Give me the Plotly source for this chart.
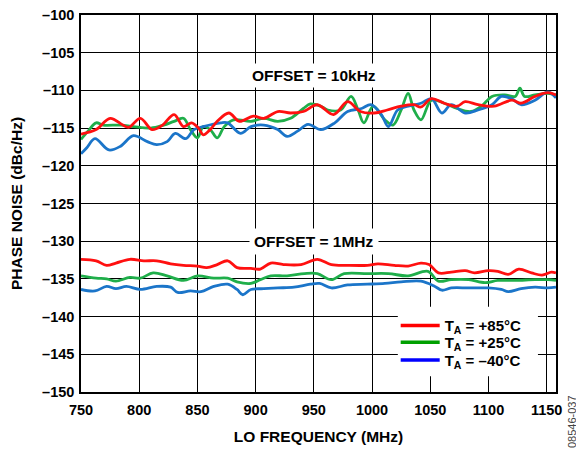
import plotly.graph_objects as go

# ---------------- data ----------------
x_ticks = [750, 800, 850, 900, 950, 1000, 1050, 1100, 1150]
x_tick_labels = ["750", "800", "850", "900", "950", "1000", "1050", "1100", "1150"]
y_ticks = [-100, -105, -110, -115, -120, -125, -130, -135, -140, -145, -150]
y_tick_labels = ["–100", "–105", "–110", "–115", "–120", "–125", "–130", "–135", "–140", "–145", "–150"]

# OFFSET = 10kHz
f_red_10k = [750, 763, 775, 786, 791, 801, 811, 820, 830, 838, 845, 851, 855, 861, 867, 877, 886, 898, 907, 919,
             930, 941, 953, 967, 979, 990, 1002, 1013, 1025, 1036, 1042, 1051, 1062, 1073, 1080, 1091, 1105, 1120,
             1128, 1140, 1151, 1158]
pn_red_10k = [-115.8, -115.2, -113.7, -114.6, -114.9, -113.7, -115.2, -114.6, -113.2, -114.8, -114.3, -115.0,
              -115.9, -115.2, -114.1, -113.0, -114.1, -113.4, -113.7, -112.8, -113.0, -112.8, -111.9, -113.2,
              -111.5, -112.8, -113.0, -112.6, -112.1, -111.9, -112.2, -111.1, -111.7, -112.1, -111.5, -111.9,
              -112.1, -111.3, -111.7, -110.8, -110.3, -110.6]

f_green_10k = [750, 756, 763, 769, 784, 795, 810, 821, 830, 838, 844, 850, 855, 861, 867, 873, 881, 896, 907, 919,
               930, 941, 947, 956, 962, 973, 982, 988, 993, 1001, 1011, 1018, 1025, 1031, 1036, 1042, 1051, 1062,
               1073, 1085, 1094, 1103, 1114, 1123, 1127, 1131, 1140, 1151, 1158]
pn_green_10k = [-116.5, -115.4, -114.3, -114.6, -114.6, -114.8, -115.0, -114.6, -114.1, -113.7, -115.2, -116.3,
                -114.8, -115.2, -116.3, -114.8, -113.9, -114.1, -113.7, -114.1, -113.7, -112.4, -111.8, -112.1,
                -112.6, -112.6, -110.8, -112.6, -114.3, -112.1, -113.9, -114.6, -112.6, -110.4, -112.6, -113.9,
                -111.3, -111.7, -112.4, -112.8, -112.1, -110.8, -110.6, -110.8, -109.7, -110.8, -110.6, -110.4,
                -110.6]

f_blue_10k = [750, 755, 762, 774, 784, 795, 807, 815, 824, 831, 840, 847, 855, 870, 876, 887, 896, 907, 919, 927,
              936, 945, 956, 968, 979, 991, 999, 1008, 1014, 1022, 1031, 1042, 1051, 1060, 1068, 1080, 1091, 1103,
              1111, 1120, 1128, 1140, 1151, 1158]
pn_blue_10k = [-118.4, -117.6, -116.4, -117.9, -117.4, -116.0, -116.8, -117.2, -116.8, -115.7, -116.4, -115.2,
               -114.8, -114.3, -114.3, -115.7, -114.8, -114.6, -115.2, -116.1, -115.4, -114.5, -115.2, -114.3,
               -112.8, -112.4, -111.9, -113.2, -114.8, -112.6, -112.1, -111.7, -111.1, -113.0, -111.9, -113.0,
               -112.6, -111.9, -110.8, -111.1, -111.9, -111.3, -110.2, -111.0]

# OFFSET = 1MHz
f_red_1m = [750, 763, 772, 780, 792, 804, 815, 827, 838, 850, 858, 867, 876, 884, 896, 904, 913, 924, 939, 953,
            965, 979, 996, 1005, 1019, 1031, 1042, 1049, 1057, 1068, 1080, 1088, 1100, 1108, 1117, 1126, 1137,
            1146, 1154, 1158]
pn_red_1m = [-132.4, -132.6, -133.2, -132.9, -132.4, -132.6, -132.6, -133.0, -133.2, -133.3, -133.5, -133.1,
             -132.6, -133.5, -133.6, -133.7, -132.9, -133.1, -133.1, -132.4, -133.1, -133.2, -133.2, -133.0,
             -133.2, -133.3, -132.9, -133.1, -134.2, -134.1, -133.9, -134.2, -133.9, -134.0, -134.4, -133.7,
             -134.2, -134.5, -134.1, -134.2]

f_green_1m = [750, 763, 772, 780, 792, 801, 812, 824, 838, 850, 864, 876, 884, 896, 904, 913, 927, 942, 953, 965,
              976, 996, 1014, 1031, 1048, 1057, 1068, 1083, 1097, 1108, 1123, 1140, 1151, 1158]
pn_green_1m = [-134.6, -134.9, -135.0, -135.3, -134.8, -134.9, -134.2, -134.6, -135.2, -134.6, -134.9, -134.9,
               -135.4, -135.6, -135.1, -134.6, -134.6, -134.3, -134.3, -135.1, -134.3, -134.3, -134.3, -134.6,
               -134.0, -135.3, -135.1, -135.1, -135.5, -135.2, -135.2, -135.1, -135.1, -135.2]

f_blue_1m = [750, 762, 772, 780, 789, 801, 815, 827, 833, 844, 853, 864, 876, 884, 889, 896, 907, 919, 933, 947,
             955, 965, 979, 996, 1011, 1025, 1042, 1054, 1060, 1068, 1083, 1100, 1111, 1117, 1128, 1140, 1151, 1158]
pn_blue_1m = [-136.4, -136.6, -136.0, -136.3, -136.0, -136.4, -136.0, -136.1, -136.8, -136.6, -136.7, -136.0,
              -135.7, -136.4, -137.1, -136.4, -136.3, -136.2, -136.1, -135.7, -135.6, -136.2, -135.8, -135.7,
              -135.6, -135.4, -135.3, -136.0, -136.5, -136.2, -136.2, -136.2, -136.4, -136.7, -136.3, -136.1,
              -136.2, -136.1]

legend_names = ["T<sub>A</sub> = +85°C", "T<sub>A</sub> = +25°C", "T<sub>A</sub> = –40°C"]

# ---------------- styling ----------------
FONT = "Liberation Sans, Arial, sans-serif"
c_red, c_green, c_blue = "#ff1010", "#1fae4a", "#1b75c9"
leg_colors = ["#ff0000", "#00a000", "#0000ff"]
legend_ids = ["legend", "legend2", "legend3"]
legend_rows = [0.176, 0.131, 0.084]

fig = go.Figure()

series = [
    (f_green_10k, pn_green_10k, c_green), (f_green_1m, pn_green_1m, c_green),
    (f_blue_10k, pn_blue_10k, c_blue), (f_blue_1m, pn_blue_1m, c_blue),
    (f_red_10k, pn_red_10k, c_red), (f_red_1m, pn_red_1m, c_red),
]
for fx, fy, col in series:
    fig.add_trace(go.Scatter(x=fx, y=fy, mode="lines", showlegend=False, hoverinfo="skip",
                             line=dict(color=col, width=2.8, shape="spline", smoothing=1.0)))

for name, col, lid in zip(legend_names, leg_colors, legend_ids):
    fig.add_trace(go.Scatter(x=[None], y=[None], mode="lines", name=name, legend=lid,
                             line=dict(color=col, width=3.5)))

# white backdrop behind the key (hides grid lines there)
fig.add_shape(type="rect", xref="paper", yref="paper", x0=0.667, x1=0.962, y0=0.042, y1=0.226,
              fillcolor="white", line=dict(width=0), layer="above")

fig.add_annotation(x=950, y=-108.0, xref="x", yref="y", text="<b>OFFSET = 10kHz</b>", showarrow=False,
                   font=dict(family=FONT, size=15.5, color="black"), bgcolor="white", borderpad=3)
fig.add_annotation(x=950, y=-130, xref="x", yref="y", text="<b>OFFSET = 1MHz</b>", showarrow=False,
                   font=dict(family=FONT, size=15.5, color="black"), bgcolor="white", borderpad=4)
fig.add_annotation(x=1.035, y=-0.078, xref="paper", yref="paper", xanchor="center", yanchor="middle",
                   text="08546-037", showarrow=False,
                   textangle=-90, font=dict(family=FONT, size=11, color="#444444"))

leg_common = dict(x=0.6625, xanchor="left", yanchor="middle", bgcolor="rgba(0,0,0,0)",
                  font=dict(family=FONT, size=15, color="black", weight="bold"),
                  tracegroupgap=0, itemwidth=39)
fig.update_layout(
    width=576, height=441,
    margin=dict(l=73, r=28, t=7, b=57),
    paper_bgcolor="white", plot_bgcolor="white",
    font=dict(family=FONT, color="black"),
    legend=dict(y=legend_rows[0], **leg_common),
    legend2=dict(y=legend_rows[1], **leg_common),
    legend3=dict(y=legend_rows[2], **leg_common),
)
fig.update_xaxes(range=[750, 1158], tickvals=x_ticks, ticktext=x_tick_labels, automargin=False,
                 showgrid=True, gridcolor="black", gridwidth=1.3,
                 showline=True, linecolor="black", linewidth=1.5, mirror=True,
                 ticks="", zeroline=False, ticklabelstandoff=4, ticklabeloverflow="allow",
                 tickfont=dict(family=FONT, size=14.5, weight="bold"),
                 title=dict(text="<b>LO FREQUENCY (MHz)</b>", font=dict(family=FONT, size=15.5), standoff=14))
fig.update_yaxes(range=[-150, -100], tickvals=y_ticks, ticktext=y_tick_labels, automargin=False,
                 showgrid=True, gridcolor="black", gridwidth=1.3,
                 showline=True, linecolor="black", linewidth=1.5, mirror=True,
                 ticks="", zeroline=False, ticklabelstandoff=2, ticklabeloverflow="allow",
                 tickfont=dict(family=FONT, size=14.5, weight="bold"),
                 title=dict(text="<b>PHASE NOISE (dBc/Hz)</b>", font=dict(family=FONT, size=15.5), standoff=16))

fig.write_html("out.html")
